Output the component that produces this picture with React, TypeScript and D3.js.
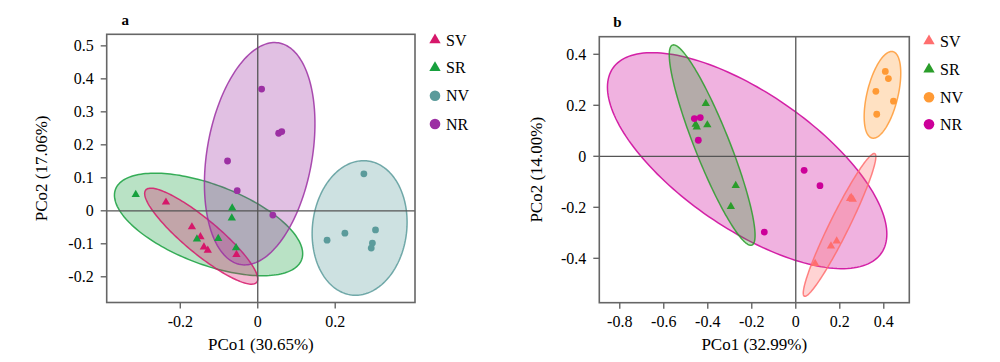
import React from 'react';
import * as d3 from 'd3';

type Pt = [number, number];

// ---- panel a ----
const aSV: Pt[] = [[-0.237, 0.026], [-0.170, -0.049], [-0.148, -0.079], [-0.139, -0.110], [-0.129, -0.120], [-0.055, -0.133]];
const aSR: Pt[] = [[-0.315, 0.049], [-0.066, 0.008], [-0.067, -0.022], [-0.102, -0.084], [-0.157, -0.086], [-0.056, -0.112]];
const aNV: Pt[] = [[0.274, 0.112], [0.179, -0.089], [0.225, -0.068], [0.304, -0.058], [0.296, -0.098], [0.293, -0.113]];
const aNR: Pt[] = [[0.010, 0.369], [0.054, 0.235], [0.062, 0.240], [-0.078, 0.151], [-0.053, 0.061], [0.039, -0.013]];
// ellipse: centre x, centre y, half width, half height, tilt (correlation)
const aEllipses = {
    SR: [-0.127, -0.0415, 0.243, 0.1555, -0.57],
    SV: [-0.146, -0.077, 0.146, 0.1455, -0.89],
    NR: [0.005, 0.173, 0.1427, 0.337, 0.27],
    NV: [0.263, -0.052, 0.1226, 0.204, 0.085],
};
const aXTicks = [-0.2, 0, 0.2];
const aYTicks = [-0.2, -0.1, 0, 0.1, 0.2, 0.3, 0.4, 0.5];

// ---- panel b ----
const bSV: Pt[] = [[0.247, -0.166], [0.259, -0.169], [0.252, -0.162], [0.186, -0.332], [0.160, -0.352], [0.088, -0.421]];
const bSR: Pt[] = [[-0.409, 0.207], [-0.455, 0.125], [-0.450, 0.115], [-0.402, 0.123], [-0.273, -0.115], [-0.295, -0.197]];
const bNV: Pt[] = [[0.407, 0.333], [0.421, 0.305], [0.364, 0.255], [0.444, 0.216], [0.368, 0.165]];
const bNR: Pt[] = [[-0.461, 0.148], [-0.434, 0.152], [-0.443, 0.063], [0.038, -0.055], [0.110, -0.115], [-0.143, -0.297]];
const bEllipses = {
    NR: [-0.221, -0.017, 0.635, 0.4235, -0.68],
    SR: [-0.380, 0.044, 0.195, 0.393, -0.90],
    SV: [0.199, -0.269, 0.165, 0.28, 0.955],
    NV: [0.394, 0.241, 0.0832, 0.17, 0.5],
};
const bXTicks = [-0.8, -0.6, -0.4, -0.2, 0, 0.2, 0.4];
const bYTicks = [-0.4, -0.2, 0, 0.2, 0.4];

const groups = ['SV', 'SR', 'NV', 'NR'];
const aColors: Record<string, string> = { SV: '#d6176a', SR: '#17a03e', NV: '#5b9b9b', NR: '#9c30a3' };
const bColors: Record<string, string> = { SV: '#ff6e6e', SR: '#2a9d2a', NV: '#ff9a35', NR: '#cc0099' };

const FONT = "'Liberation Serif', serif";

interface PanelProps {
    title: string;
    frame: { left: number; right: number; top: number; bottom: number };
    xDomain: [number, number];
    yDomain: [number, number];
    xTicks: number[];
    yTicks: number[];
    points: Record<string, Pt[]>;
    ellipses: Record<string, number[]>;
    colors: Record<string, string>;
    xLabel: string;
    yLabel: string;
    yLabelX: number;
    legendX: number;
    legendY: number[];
    titlePos: [number, number];
}

const fmt = (d: number) => (d === 0 ? '0' : String(d));

const Panel: React.FC<PanelProps> = (p) => {
    const { frame, colors } = p;
    const x = d3.scaleLinear().domain(p.xDomain).range([frame.left, frame.right]);
    const y = d3.scaleLinear().domain(p.yDomain).range([frame.bottom, frame.top]);

    const ellipsePath = (e: number[]) => {
        const [cx, cy, sx, sy, r] = e;
        const ts = d3.range(0, 2 * Math.PI, Math.PI / 90);
        const line = d3.line<number>()
            .x(t => x(cx + sx * Math.cos(t)))
            .y(t => y(cy + sy * (r * Math.cos(t) + Math.sqrt(1 - r * r) * Math.sin(t))))
            .curve(d3.curveLinearClosed);
        return line(ts) || '';
    };

    const tri = d3.symbol(d3.symbolTriangle, 30)() || '';
    const triLegend = d3.symbol(d3.symbolTriangle, 56)() || '';
    const isTri = (g: string) => g === 'SV' || g === 'SR';

    return (
        <g style={{ fontFamily: FONT }}>
            <text x={p.titlePos[0]} y={p.titlePos[1]} fontSize={15} fontWeight="bold">{p.title}</text>

            {Object.entries(p.ellipses).map(([g, e]) => (
                <path key={g} d={ellipsePath(e)} fill={colors[g]} fillOpacity={0.3}
                      stroke={colors[g]} strokeOpacity={0.85} strokeWidth={1.5} />
            ))}

            <line x1={frame.left} x2={frame.right} y1={y(0)} y2={y(0)} stroke="#555" strokeWidth={1.3} />
            <line x1={x(0)} x2={x(0)} y1={frame.top} y2={frame.bottom} stroke="#555" strokeWidth={1.3} />

            {groups.map(g => p.points[g].map((d, i) => isTri(g)
                ? <path key={g + i} d={tri} transform={`translate(${x(d[0])},${y(d[1])})`} fill={colors[g]} />
                : <circle key={g + i} cx={x(d[0])} cy={y(d[1])} r={3.4} fill={colors[g]} />))}

            <rect x={frame.left} y={frame.top} width={frame.right - frame.left} height={frame.bottom - frame.top}
                  fill="none" stroke="#666" strokeWidth={1.6} />

            {p.xTicks.map(t => (
                <g key={'x' + t} transform={`translate(${x(t)},${frame.bottom})`}>
                    <line y1={0} y2={6} stroke="#666" strokeWidth={1.4} />
                    <text y={24} textAnchor="middle" fontSize={16}>{fmt(t)}</text>
                </g>
            ))}
            {p.yTicks.map(t => (
                <g key={'y' + t} transform={`translate(${frame.left},${y(t)})`}>
                    <line x1={0} x2={-6} stroke="#666" strokeWidth={1.4} />
                    <text x={-13} dy="0.34em" textAnchor="end" fontSize={16}>{fmt(t)}</text>
                </g>
            ))}

            <text x={(frame.left + frame.right) / 2} y={350} textAnchor="middle" fontSize={17}>{p.xLabel}</text>
            <text transform={`translate(${p.yLabelX},${(frame.top + frame.bottom) / 2}) rotate(-90)`}
                  textAnchor="middle" fontSize={17}>{p.yLabel}</text>

            {groups.map((g, i) => (
                <g key={'l' + g} transform={`translate(${p.legendX},${p.legendY[i]})`}>
                    {isTri(g)
                        ? <path d={triLegend} fill={colors[g]} />
                        : <circle r={5.3} fill={colors[g]} />}
                    <text x={11} y={5.6} fontSize={16}>{g}</text>
                </g>
            ))}
        </g>
    );
};

const App: React.FC = () => (
    <svg width={1000} height={362} style={{ display: 'block', position: 'absolute', left: 0, top: 0, background: '#fff' }}>
        <Panel
            title="a"
            titlePos={[121.5, 25]}
            frame={{ left: 106.7, right: 415, top: 34.3, bottom: 302.5 }}
            xDomain={[-0.39, 0.406]}
            yDomain={[-0.278, 0.535]}
            xTicks={aXTicks}
            yTicks={aYTicks}
            points={{ SV: aSV, SR: aSR, NV: aNV, NR: aNR }}
            ellipses={aEllipses}
            colors={aColors}
            xLabel="PCo1 (30.65%)"
            yLabel="PCo2 (17.06%)"
            yLabelX={47}
            legendX={435}
            legendY={[40, 67.7, 95.7, 124]}
        />
        <Panel
            title="b"
            titlePos={[613.3, 27.3]}
            frame={{ left: 599.3, right: 909.3, top: 36.7, bottom: 302.7 }}
            xDomain={[-0.893, 0.516]}
            yDomain={[-0.574, 0.469]}
            xTicks={bXTicks}
            yTicks={bYTicks}
            points={{ SV: bSV, SR: bSR, NV: bNV, NR: bNR }}
            ellipses={bEllipses}
            colors={bColors}
            xLabel="PCo1 (32.99%)"
            yLabel="PCo2 (14.00%)"
            yLabelX={542}
            legendX={929}
            legendY={[41, 69.3, 97.3, 124.3]}
        />
    </svg>
);

export default App;
